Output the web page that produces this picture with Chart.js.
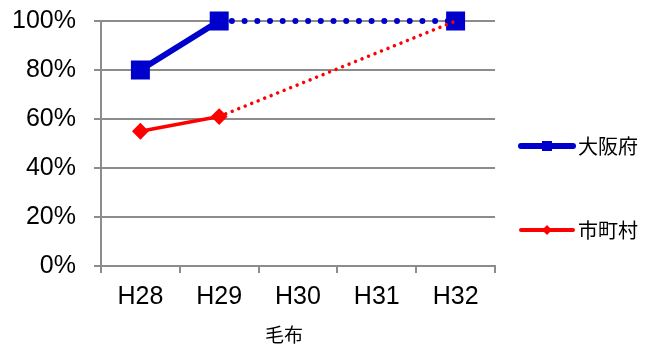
<!DOCTYPE html>
<html>
<head>
<meta charset="utf-8">
<script src="https://cdn.jsdelivr.net/npm/chart.js@4"></script>
<style>
  html, body { margin: 0; padding: 0; background: #fff; }
  #wrap { width: 651px; height: 345px; }
</style>
</head>
<body>
<div id="wrap"><canvas id="chart" width="651" height="345"></canvas></div>
<script>
const categories = ["H28", "H29", "H30", "H31", "H32"];
const osakaValues = [80, 100, null, null, 100];      // 大阪府
const cityValues = [55, 61, null, null, 100];        // 市町村
const yTicks = [0, 20, 40, 60, 80, 100];
const axisTitle = "毛布";
const seriesNames = ["大阪府", "市町村"];

const BLUE = "#0000cc";
const RED = "#ff0000";
const GRID = "#8c8c8c";
const latin = "'Liberation Sans', Arial, sans-serif";
const cjk = "'Noto Sans CJK JP', sans-serif";

// dotted after the H29 point (projection part)
const dotted = (gap, w) => ({
  borderDash: ctx => ctx.p0DataIndex >= 1 ? [0.001, gap] : undefined,
  borderWidth: ctx => ctx.p0DataIndex >= 1 ? w : undefined,
  borderCapStyle: "round"
});

// legend drawn by hand: line with marker in the middle, like Excel
const sideLegend = {
  id: "sideLegend",
  afterDraw(chart) {
    const c = chart.ctx;
    const items = [
      { name: seriesNames[0], color: BLUE, y: 146, w: 6, marker: "square" },
      { name: seriesNames[1], color: RED, y: 230, w: 4, marker: "diamond" }
    ];
    c.save();
    items.forEach(it => {
      c.strokeStyle = it.color;
      c.lineWidth = it.w;
      c.lineCap = "round";
      c.beginPath();
      c.moveTo(521, it.y);
      c.lineTo(573, it.y);
      c.stroke();
      c.fillStyle = it.color;
      if (it.marker === "square") {
        c.fillRect(542, it.y - 5, 10, 10);
      } else {
        c.beginPath();
        c.moveTo(547 - 5, it.y);
        c.lineTo(547, it.y - 5);
        c.lineTo(547 + 5, it.y);
        c.lineTo(547, it.y + 5);
        c.closePath();
        c.fill();
      }
      c.fillStyle = "#000";
      c.font = "20px " + cjk;
      c.textAlign = "left";
      c.textBaseline = "middle";
      c.fillText(it.name, 578, it.y);
    });
    // axis title
    c.font = "19px " + cjk;
    c.textAlign = "center";
    c.textBaseline = "middle";
    c.fillText(axisTitle, 284, 335);
    c.restore();
  }
};

new Chart(document.getElementById("chart"), {
  type: "line",
  data: {
    labels: categories,
    datasets: [
      {
        label: seriesNames[0],
        data: osakaValues,
        borderColor: BLUE,
        backgroundColor: BLUE,
        borderWidth: 6,
        borderCapStyle: "round",
        pointStyle: "rect",
        pointRadius: [12, 12, 0, 0, 12],
        pointBorderWidth: 2,
        spanGaps: true,
        clip: false,
        order: 2,
        segment: dotted(12.7, 6)
      },
      {
        label: seriesNames[1],
        data: cityValues,
        borderColor: RED,
        backgroundColor: RED,
        borderWidth: 3.5,
        borderCapStyle: "round",
        pointStyle: "rectRot",
        pointRadius: [7, 7, 0, 0, 0],
        pointBorderWidth: 2,
        spanGaps: true,
        clip: false,
        order: 1,
        segment: dotted(7, 3.5)
      }
    ]
  },
  options: {
    responsive: false,
    animation: false,
    layout: { padding: { left: 0, top: 21, right: 156, bottom: 0 } },
    plugins: { legend: { display: false }, tooltip: { enabled: false } },
    scales: {
      x: {
        offset: true,
        afterFit: s => { s.height = 79; s.paddingLeft = 0; s.paddingRight = 0; },
        grid: {
          offset: true,
          drawOnChartArea: false,
          drawTicks: true,
          tickLength: 7,
          color: GRID,
          lineWidth: 2
        },
        border: { color: GRID, width: 2 },
        ticks: { color: "#000", font: { family: latin, size: 25 }, padding: 9, maxRotation: 0 }
      },
      y: {
        min: 0,
        max: 100,
        afterFit: s => { s.width = 101; s.paddingTop = 0; s.paddingBottom = 0; },
        afterBuildTicks: s => { s.ticks = yTicks.map(v => ({ value: v })); },
        grid: { color: GRID, lineWidth: 2, tickLength: 7 },
        border: { color: GRID, width: 2 },
        ticks: {
          color: "#000",
          font: { family: latin, size: 25 },
          padding: 18,
          callback: v => v + "%"
        }
      }
    }
  },
  plugins: [sideLegend]
});
</script>
</body>
</html>
